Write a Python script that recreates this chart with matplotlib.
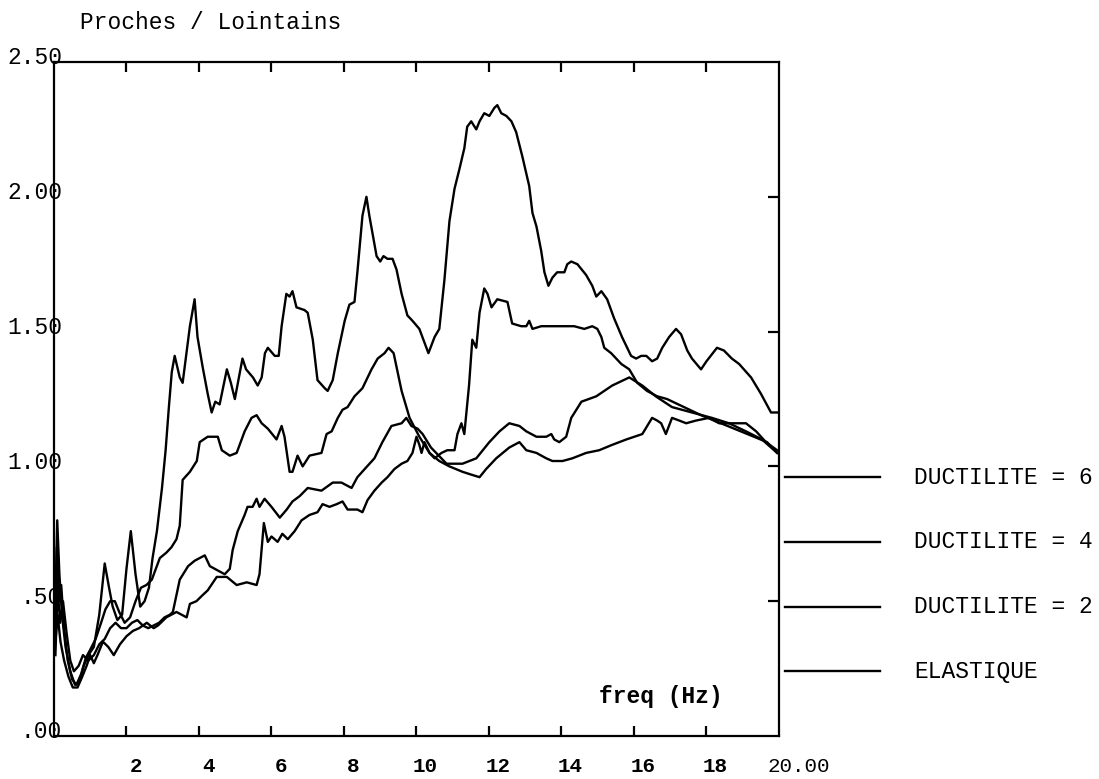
import matplotlib
matplotlib.use("Agg")
import matplotlib.pyplot as plt
from matplotlib.transforms import blended_transform_factory

# spectral ratio near / far field for four behaviour laws
freq_elast = [0.04, 0.09, 0.15, 0.22, 0.32, 0.45, 0.58, 0.70, 0.82, 0.95, 1.10, 1.25, 1.40, 1.52, 1.62,
              1.75, 1.88, 2.00, 2.12, 2.25, 2.38, 2.50, 2.62, 2.72, 2.84, 2.98, 3.08, 3.17, 3.25, 3.33,
              3.47, 3.55, 3.75, 3.88, 3.96, 4.10, 4.24, 4.35, 4.45, 4.57, 4.77, 4.88, 4.99, 5.20, 5.30,
              5.49, 5.62, 5.73, 5.82, 5.90, 6.09, 6.20, 6.28, 6.41, 6.50, 6.58, 6.69, 6.91, 7.00, 7.14,
              7.27, 7.47, 7.55, 7.69, 7.83, 8.02, 8.15, 8.29, 8.37, 8.51, 8.62, 8.70, 8.90, 9.00, 9.09,
              9.20, 9.34, 9.45, 9.59, 9.75, 9.89, 10.08, 10.33, 10.50, 10.63, 10.77, 10.91, 11.05, 11.18,
              11.32, 11.40, 11.51, 11.65, 11.74, 11.87, 12.01, 12.15, 12.23, 12.34, 12.48, 12.62, 12.75,
              12.92, 13.11, 13.20, 13.31, 13.44, 13.53, 13.64, 13.75, 13.88, 14.08, 14.16, 14.27, 14.44,
              14.68, 14.85, 14.96, 15.10, 15.26, 15.45, 15.67, 15.92, 16.06, 16.20, 16.34, 16.50, 16.64,
              16.78, 16.97, 17.16, 17.30, 17.47, 17.60, 17.85, 18.00, 18.29, 18.48, 18.70, 18.90, 19.23,
              19.50, 19.78, 19.95]
ratio_elast = [0.50, 0.80, 0.60, 0.45, 0.33, 0.24, 0.19, 0.20, 0.26, 0.30, 0.33, 0.45, 0.64, 0.55, 0.48,
               0.43, 0.45, 0.62, 0.76, 0.60, 0.48, 0.50, 0.55, 0.66, 0.76, 0.92, 1.06, 1.22, 1.35, 1.41,
               1.33, 1.31, 1.52, 1.62, 1.48, 1.37, 1.27, 1.20, 1.24, 1.23, 1.36, 1.31, 1.25, 1.40, 1.36,
               1.33, 1.30, 1.33, 1.42, 1.44, 1.41, 1.41, 1.52, 1.64, 1.63, 1.65, 1.59, 1.58, 1.57, 1.47,
               1.32, 1.29, 1.28, 1.32, 1.42, 1.54, 1.60, 1.61, 1.72, 1.93, 2.00, 1.93, 1.78, 1.76, 1.78,
               1.77, 1.77, 1.73, 1.64, 1.56, 1.54, 1.51, 1.42, 1.48, 1.51, 1.69, 1.91, 2.03, 2.10,
               2.18, 2.26, 2.28, 2.25, 2.28, 2.31, 2.30, 2.33, 2.34, 2.31, 2.30, 2.28, 2.24,
               2.15, 2.04, 1.94, 1.89, 1.80, 1.72, 1.67, 1.70, 1.72, 1.72, 1.75, 1.76, 1.75,
               1.71, 1.67, 1.63, 1.65, 1.62, 1.55, 1.48, 1.41, 1.40, 1.41, 1.41, 1.39, 1.40,
               1.44, 1.48, 1.51, 1.49, 1.43, 1.40, 1.36, 1.39, 1.44, 1.43, 1.40, 1.38, 1.33,
               1.27, 1.20, 1.20]

freq_d2 = [0.04, 0.08, 0.14, 0.20, 0.28, 0.38, 0.50, 0.62, 0.75, 0.88, 1.00, 1.15, 1.30, 1.42, 1.55,
           1.68, 1.80, 1.95, 2.10, 2.25, 2.40, 2.55, 2.70, 2.92, 3.10, 3.24, 3.38, 3.47, 3.55, 3.75,
           3.94, 4.02, 4.24, 4.52, 4.63, 4.85, 5.04, 5.26, 5.45, 5.59, 5.73, 5.90, 6.14, 6.28, 6.36,
           6.50, 6.58, 6.72, 6.86, 7.05, 7.38, 7.52, 7.66, 7.83, 7.96, 8.10, 8.29, 8.51, 8.76, 8.93,
           9.12, 9.23, 9.37, 9.48, 9.59, 9.81, 10.08, 10.36, 10.63, 10.91, 11.27, 11.50, 11.74, 11.92,
           12.20, 12.56, 12.84, 13.03, 13.31, 13.58, 13.75, 14.03, 14.30, 14.68, 15.04, 15.40, 15.79,
           16.23, 16.50, 16.64, 16.75, 16.88, 17.05, 17.25, 17.44, 17.71, 18.07, 18.35, 18.71, 19.09,
           19.37, 19.64, 19.95]
ratio_d2 = [0.40, 0.70, 0.50, 0.56, 0.40, 0.28, 0.21, 0.19, 0.23, 0.29, 0.32, 0.36, 0.42, 0.47, 0.50,
            0.50, 0.46, 0.42, 0.44, 0.50, 0.55, 0.56, 0.58, 0.66, 0.68, 0.70, 0.73, 0.78, 0.95, 0.98,
            1.02, 1.09, 1.11, 1.11, 1.06, 1.04, 1.05, 1.13, 1.18, 1.19, 1.16, 1.14, 1.10, 1.15, 1.11,
            0.98, 0.98, 1.04, 1.00, 1.04, 1.05, 1.12, 1.13, 1.18, 1.21, 1.22, 1.26, 1.29, 1.36, 1.40,
            1.42, 1.44, 1.42, 1.35, 1.28, 1.18, 1.11, 1.05, 1.02, 1.00, 0.98, 0.97, 0.96, 0.99,
            1.03, 1.07, 1.09, 1.06, 1.05, 1.03, 1.02, 1.02, 1.03, 1.05, 1.06, 1.08, 1.10,
            1.12, 1.18, 1.17, 1.16, 1.12, 1.18, 1.17, 1.16, 1.17, 1.18, 1.16, 1.16, 1.16,
            1.13, 1.09, 1.06]

freq_d4 = [0.04, 0.10, 0.17, 0.25, 0.35, 0.45, 0.55, 0.68, 0.80, 0.95, 1.10, 1.25, 1.40, 1.55, 1.70,
           1.85, 2.00, 2.15, 2.30, 2.45, 2.60, 2.75, 2.90, 3.05, 3.20, 3.28, 3.47, 3.70, 3.88, 4.16,
           4.30, 4.71, 4.85, 4.93, 5.07, 5.26, 5.34, 5.48, 5.59, 5.67, 5.81, 6.00, 6.23, 6.42, 6.58,
           6.78, 7.00, 7.38, 7.69, 7.93, 8.21, 8.37, 8.57, 8.84, 9.06, 9.31, 9.59, 9.72, 9.86, 10.03,
           10.17, 10.40, 10.83, 11.27, 11.65, 12.01, 12.29, 12.56, 12.84, 13.03, 13.31, 13.58, 13.72,
           13.80, 13.94, 14.13, 14.27, 14.55, 14.96, 15.40, 15.87, 16.23, 16.60, 17.05, 17.60, 18.15,
           18.62, 19.09, 19.53, 19.95]
ratio_d4 = [0.30, 0.55, 0.42, 0.50, 0.38, 0.28, 0.24, 0.26, 0.30, 0.28, 0.30, 0.34, 0.36, 0.40, 0.42,
            0.40, 0.40, 0.42, 0.43, 0.41, 0.40, 0.41, 0.42, 0.44, 0.45, 0.46, 0.58, 0.63, 0.65, 0.67,
            0.63, 0.60, 0.62, 0.69, 0.76, 0.82, 0.85, 0.85, 0.88, 0.85, 0.88, 0.85, 0.81, 0.84, 0.87,
            0.89, 0.92, 0.91, 0.94, 0.94, 0.92, 0.96, 0.99, 1.03, 1.09, 1.15, 1.16, 1.18, 1.15, 1.14,
            1.12, 1.07, 1.01, 1.01, 1.03, 1.09, 1.13, 1.16, 1.15, 1.13, 1.11, 1.11, 1.12,
            1.10, 1.09, 1.11, 1.18, 1.24, 1.26, 1.30, 1.33, 1.30, 1.26, 1.22, 1.20, 1.18,
            1.16, 1.13, 1.10, 1.05]

freq_d6 = [0.04, 0.10, 0.18, 0.28, 0.40, 0.52, 0.65, 0.78, 0.90, 1.00, 1.10, 1.20, 1.35, 1.50, 1.65,
           1.82, 2.00, 2.18, 2.35, 2.56, 2.75, 2.87, 3.10, 3.38, 3.66, 3.75, 3.93, 4.08, 4.24, 4.49,
           4.77, 5.04, 5.32, 5.59, 5.67, 5.79, 5.90, 6.00, 6.17, 6.30, 6.45, 6.64, 6.83, 7.05, 7.27,
           7.41, 7.60, 7.80, 7.96, 8.10, 8.37, 8.51, 8.65, 8.84, 9.04, 9.20, 9.39, 9.59, 9.75, 9.89,
           10.00, 10.08, 10.14, 10.22, 10.36, 10.50, 10.69, 10.85, 11.05, 11.13, 11.24, 11.32, 11.45,
           11.54, 11.65, 11.74, 11.87, 11.96, 12.07, 12.23, 12.51, 12.64, 12.89, 13.03, 13.11, 13.20,
           13.44, 13.61, 13.88, 14.35, 14.63, 14.85, 14.99, 15.10, 15.18, 15.37, 15.65, 15.87, 16.09,
           16.36, 16.64, 16.91, 17.85, 18.40, 19.31, 19.67, 19.95]
ratio_d6 = [0.35, 0.45, 0.35, 0.28, 0.22, 0.18, 0.18, 0.22, 0.26, 0.30, 0.27, 0.30, 0.35, 0.33, 0.30,
            0.34, 0.37, 0.39, 0.40, 0.42, 0.40, 0.41, 0.44, 0.46, 0.44, 0.49, 0.50, 0.52, 0.54, 0.59,
            0.59, 0.56, 0.57, 0.56, 0.60, 0.79, 0.72, 0.74, 0.72, 0.75, 0.73, 0.76, 0.80, 0.82, 0.83,
            0.86, 0.85, 0.86, 0.87, 0.84, 0.84, 0.83, 0.875, 0.91, 0.94, 0.96, 0.99, 1.01, 1.02, 1.05,
            1.11, 1.08, 1.05, 1.09, 1.05, 1.03, 1.05, 1.06, 1.06, 1.12, 1.16, 1.12, 1.30,
            1.47, 1.44, 1.57, 1.66, 1.64, 1.59, 1.62, 1.61, 1.53, 1.52, 1.52, 1.54, 1.51,
            1.52, 1.52, 1.52, 1.52, 1.51, 1.52, 1.51, 1.48, 1.44, 1.42, 1.38, 1.36, 1.31,
            1.28, 1.26, 1.25, 1.19, 1.16, 1.11, 1.09, 1.05]

curve_labels = ["DUCTILITE = 6", "DUCTILITE = 4", "DUCTILITE = 2", "ELASTIQUE"]
x_ticks = [2, 4, 6, 8, 10, 12, 14, 16, 18]
x_tick_labels = ["2", "4", "6", "8", "10", "12", "14", "16", "18"]
y_ticks = [0.0, 0.5, 1.0, 1.5, 2.0, 2.5]
y_tick_labels = [".00", ".50", "1.00", "1.50", "2.00", "2.50"]

mono = "Liberation Mono"
fs = 16.5

fig = plt.figure(figsize=(10.99, 7.79), dpi=100)
ax = fig.add_axes([0.0491, 0.0552, 0.6597, 0.8652])

for fx, ry in [(freq_elast, ratio_elast), (freq_d2, ratio_d2),
               (freq_d4, ratio_d4), (freq_d6, ratio_d6)]:
    ax.plot(fx, ry, color="black", lw=1.7)

ax.set_xlim(0, 20)
ax.set_ylim(0, 2.5)
for s in ax.spines.values():
    s.set_linewidth(1.6)

# inward ticks: top/bottom for frequency, right side for the ratio
ax.set_xticks(x_ticks)
ax.set_xticklabels([])
ax.set_yticks([0.5, 1.0, 1.5, 2.0])
ax.set_yticklabels([])
ax.tick_params(axis="x", direction="in", length=7, width=1.6, top=True, bottom=True)
ax.tick_params(axis="y", direction="in", length=8, width=1.6, left=False, right=True)

# frequency labels sit a little right of their ticks
xt = blended_transform_factory(ax.transData, ax.transAxes)
for v, lab in zip(x_ticks, x_tick_labels):
    ax.text(v + 0.25, -0.0535, lab, transform=xt, ha="center", va="baseline",
            family=mono, fontsize=15, fontweight="bold")
ax.text(20.55, -0.0535, "20.00", transform=xt, ha="center", va="baseline",
        family=mono, fontsize=15)

yt = blended_transform_factory(ax.transAxes, ax.transData)
for v, lab in zip(y_ticks, y_tick_labels):
    ax.text(0.011, v + 0.015, lab, transform=yt, ha="right", va="center",
            family=mono, fontsize=fs)

ax.text(0.0358, 1.058, "Proches / Lointains", transform=ax.transAxes,
        ha="left", va="center", family=mono, fontsize=fs)
ax.text(15.04, 0.145, "freq (Hz)", ha="left", va="center",
        family=mono, fontsize=fs, fontweight="bold")

# legend keys outside the frame on the right
for i, lab in enumerate(curve_labels):
    yk = 0.384 - i * 0.0961
    ax.plot([1.008, 1.139], [yk, yk], transform=ax.transAxes, color="black",
            lw=1.7, clip_on=False)
    ax.text(1.186, yk, lab, transform=ax.transAxes, ha="left", va="center",
            family=mono, fontsize=fs)

fig.savefig("out.png", dpi=100)
